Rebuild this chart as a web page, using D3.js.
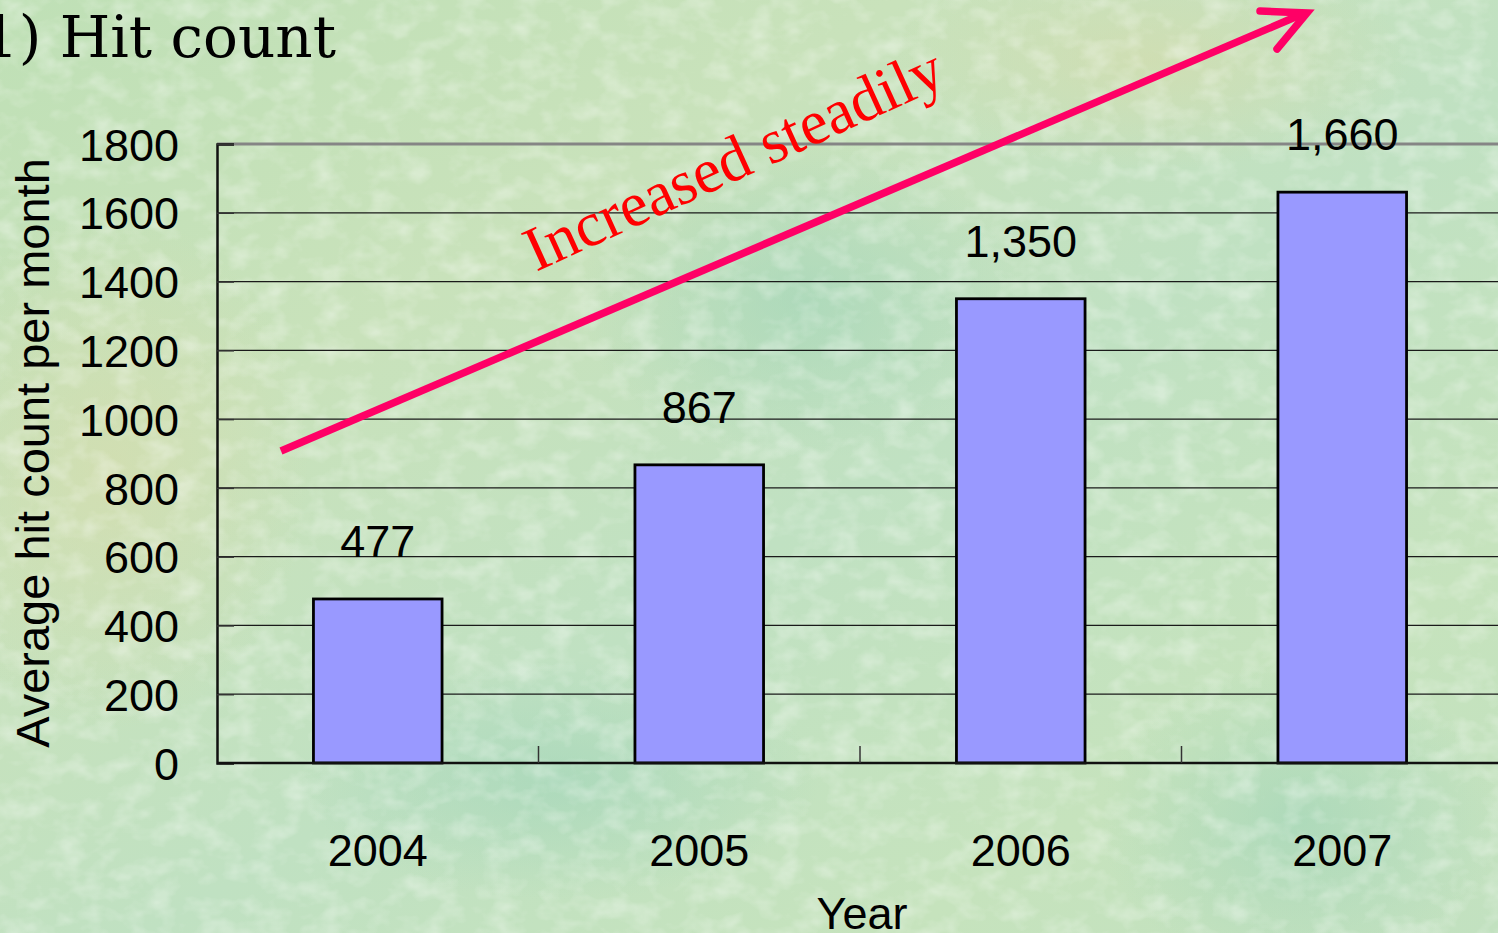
<!DOCTYPE html>
<html>
<head>
<meta charset="utf-8">
<script src="https://cdn.jsdelivr.net/npm/d3@7"></script>
<style>
  body { margin: 0; overflow: hidden; }
</style>
</head>
<body>
<script>
// data
var years = ["2004", "2005", "2006", "2007"];
var hits = [477, 867, 1350, 1660];
var yTicks = [0, 200, 400, 600, 800, 1000, 1200, 1400, 1600, 1800];

var w = 1498;
var h = 933;

var svg = d3.select("body")
      .append("svg")
      .attr("width", w)
      .attr("height", h);

// background
var defs = svg.append("defs");
var grad = defs.append("linearGradient")
      .attr("id", "bg")
      .attr("x1", "0").attr("y1", "0")
      .attr("x2", "1").attr("y2", "1");
grad.append("stop").attr("offset", "0%").attr("stop-color", "#bfe0b6");
grad.append("stop").attr("offset", "30%").attr("stop-color", "#c9e2bb");
grad.append("stop").attr("offset", "55%").attr("stop-color", "#c0e1c2");
grad.append("stop").attr("offset", "80%").attr("stop-color", "#c6e3bd");
grad.append("stop").attr("offset", "100%").attr("stop-color", "#c2e1c0");

var blob = defs.append("radialGradient").attr("id", "beige");
blob.append("stop").attr("offset", "0%").attr("stop-color", "#d8dbaa").attr("stop-opacity", 0.55);
blob.append("stop").attr("offset", "100%").attr("stop-color", "#d8dbaa").attr("stop-opacity", 0);
var blob2 = defs.append("radialGradient").attr("id", "teal");
blob2.append("stop").attr("offset", "0%").attr("stop-color", "#9fd4b8").attr("stop-opacity", 0.6);
blob2.append("stop").attr("offset", "100%").attr("stop-color", "#9fd4b8").attr("stop-opacity", 0);

var f = defs.append("filter").attr("id", "grain")
      .attr("x", 0).attr("y", 0).attr("width", "100%").attr("height", "100%");
f.append("feTurbulence")
      .attr("type", "fractalNoise")
      .attr("baseFrequency", "0.035 0.05")
      .attr("numOctaves", 3)
      .attr("seed", 4);
f.append("feColorMatrix")
      .attr("type", "matrix")
      .attr("values", "0 0 0 0 1  0 0 0 0 1  0 0 0 0 1  0 0 0 -2.2 1.25");

svg.append("rect").attr("width", w).attr("height", h).attr("fill", "url(#bg)");
svg.append("ellipse").attr("cx", 110).attr("cy", 470).attr("rx", 200).attr("ry", 260).attr("fill", "url(#beige)");
svg.append("ellipse").attr("cx", 1150).attr("cy", 60).attr("rx", 260).attr("ry", 110).attr("fill", "url(#beige)");
svg.append("ellipse").attr("cx", 560).attr("cy", 780).attr("rx", 260).attr("ry", 120).attr("fill", "url(#teal)");
svg.append("ellipse").attr("cx", 1300).attr("cy", 820).attr("rx", 200).attr("ry", 160).attr("fill", "url(#teal)");
svg.append("ellipse").attr("cx", 800).attr("cy", 300).attr("rx", 220).attr("ry", 160).attr("fill", "url(#teal)");
svg.append("rect").attr("width", w).attr("height", h)
      .attr("filter", "url(#grain)").attr("opacity", 0.35);

// plot area
var plotLeft = 217, plotRight = 1498, plotTop = 144, plotBottom = 763;

var x = d3.scaleBand()
      .domain(years)
      .range([plotLeft, plotLeft + 4 * 321.5])
      .paddingInner(0.6)
      .paddingOuter(0.3);

var y = d3.scaleLinear()
      .domain([0, 1800])
      .range([plotBottom, plotTop]);

// gridlines
svg.selectAll("line.grid")
   .data(yTicks.filter(function(d) { return d > 0 && d < 1800; }))
   .enter()
   .append("line")
   .attr("class", "grid")
   .attr("x1", plotLeft)
   .attr("x2", plotRight)
   .attr("y1", function(d) { return y(d); })
   .attr("y2", function(d) { return y(d); })
   .attr("stroke", "#1a1a1a")
   .attr("stroke-width", 1.2);

svg.append("line")
   .attr("x1", plotLeft).attr("x2", plotRight)
   .attr("y1", y(1800)).attr("y2", y(1800))
   .attr("stroke", "#858585")
   .attr("stroke-width", 3);

// y axis
var yAxis = d3.axisLeft(y)
      .tickValues(yTicks)
      .tickFormat(d3.format("d"))
      .tickSize(-17)
      .tickPadding(38);

var gy = svg.append("g")
      .attr("transform", "translate(" + plotLeft + ",0)")
      .call(yAxis);
gy.select(".domain").attr("stroke", "#111").attr("stroke-width", 2.5);
gy.selectAll(".tick line").attr("stroke", "#333").attr("stroke-width", 1.5);
gy.selectAll(".tick text")
   .attr("font-family", "Arial, 'Liberation Sans', sans-serif")
   .attr("font-size", "45px")
   .attr("fill", "#000")
   .attr("dy", "0.36em");

// bars
svg.selectAll("rect.bar")
   .data(hits)
   .enter()
   .append("rect")
   .attr("class", "bar")
   .attr("x", function(d, i) { return x(years[i]); })
   .attr("y", function(d) { return y(d); })
   .attr("width", x.bandwidth())
   .attr("height", function(d) { return plotBottom - y(d); })
   .attr("fill", "#9999ff")
   .attr("stroke", "#000")
   .attr("stroke-width", 2.8);

// x axis
svg.append("line")
   .attr("x1", plotLeft).attr("x2", plotRight)
   .attr("y1", plotBottom).attr("y2", plotBottom)
   .attr("stroke", "#111")
   .attr("stroke-width", 2.5);

svg.selectAll("line.xtick")
   .data(years.slice(1))
   .enter()
   .append("line")
   .attr("class", "xtick")
   .attr("x1", function(d) { return x(d) - x.step() * x.paddingInner() / 2; })
   .attr("x2", function(d) { return x(d) - x.step() * x.paddingInner() / 2; })
   .attr("y1", plotBottom)
   .attr("y2", plotBottom - 17)
   .attr("stroke", "#333")
   .attr("stroke-width", 1.5);

svg.selectAll("text.xlab")
   .data(years)
   .enter()
   .append("text")
   .attr("class", "xlab")
   .text(function(d) { return d; })
   .attr("x", function(d) { return x(d) + x.bandwidth() / 2; })
   .attr("y", 866)
   .attr("text-anchor", "middle")
   .attr("font-family", "Arial, 'Liberation Sans', sans-serif")
   .attr("font-size", "45px")
   .attr("fill", "#000");

// value labels
svg.selectAll("text.val")
   .data(hits)
   .enter()
   .append("text")
   .attr("class", "val")
   .text(function(d) { return d3.format(",")(d); })
   .attr("x", function(d, i) { return x(years[i]) + x.bandwidth() / 2; })
   .attr("y", function(d) { return y(d) - 42; })
   .attr("text-anchor", "middle")
   .attr("font-family", "Arial, 'Liberation Sans', sans-serif")
   .attr("font-size", "45px")
   .attr("fill", "#000");

// axis titles
svg.append("text")
   .text("Year")
   .attr("x", 862)
   .attr("y", 929)
   .attr("text-anchor", "middle")
   .attr("font-family", "Arial, 'Liberation Sans', sans-serif")
   .attr("font-size", "45px")
   .attr("fill", "#000");

svg.append("text")
   .text("Average hit count per month")
   .attr("transform", "translate(49,453) rotate(-90)")
   .attr("text-anchor", "middle")
   .attr("font-family", "Arial, 'Liberation Sans', sans-serif")
   .attr("font-size", "47px")
   .attr("fill", "#000");

// title (its "1" runs off the left edge in the reference)
svg.append("text")
   .text("1) Hit count")
   .attr("x", 336)
   .attr("y", 57)
   .attr("text-anchor", "end")
   .attr("font-family", "'DejaVu Serif', serif")
   .attr("font-size", "58px")
   .attr("fill", "#000");

// trend arrow
var arrowColor = "#ff0066";
svg.append("line")
   .attr("x1", 281).attr("y1", 451)
   .attr("x2", 1300).attr("y2", 15)
   .attr("stroke", arrowColor)
   .attr("stroke-width", 7.5);
svg.append("path")
   .attr("d", "M1260,11 L1307,13 L1277,49")
   .attr("fill", "none")
   .attr("stroke", arrowColor)
   .attr("stroke-width", 7.5)
   .attr("stroke-linecap", "round")
   .attr("stroke-linejoin", "miter");

svg.append("text")
   .text("Increased steadily")
   .attr("transform", "translate(536,272) rotate(-24.5)")
   .attr("font-family", "'Times New Roman', 'Liberation Serif', serif")
   .attr("font-size", "63px")
   .attr("fill", "#ff0000");
</script>
</body>
</html>
